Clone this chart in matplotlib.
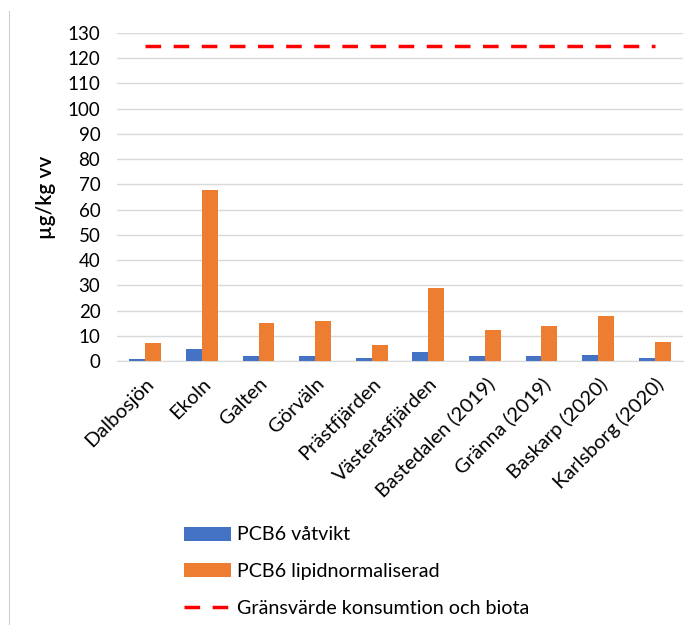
import matplotlib
matplotlib.use("Agg")
import matplotlib.pyplot as plt
import numpy as np

plt.rcParams['font.family'] = ['Lato', 'DejaVu Sans']

# data
sites = ["Dalbosjön", "Ekoln", "Galten", "Görväln", "Prästfjärden", "Västeråsfjärden",
         "Bastedalen (2019)", "Gränna (2019)", "Baskarp (2020)", "Karlsborg (2020)"]
pcb6_vatvikt = [0.9, 4.7, 1.9, 2.0, 1.1, 3.5, 2.1, 2.0, 2.5, 1.3]
pcb6_lipid = [7.2, 67.8, 14.9, 16.0, 6.5, 28.9, 12.3, 13.9, 18.0, 7.6]
gransvarde = [125] * len(sites)
yticks = list(range(0, 131, 10))

fig = plt.figure(figsize=(6.86, 6.25), dpi=100)
ax = fig.add_axes([0.1706, 0.4224, 0.825, 0.5248])

x = np.arange(len(sites))
w = 0.28
b1 = ax.bar(x - w / 2, pcb6_vatvikt, w, color='#4472C4', label='PCB6 våtvikt', zorder=3)
b2 = ax.bar(x + w / 2, pcb6_lipid, w, color='#ED7D31', label='PCB6 lipidnormaliserad', zorder=3)
ln, = ax.plot(x, gransvarde, color='#FF0000', lw=2.5, dashes=(4.5, 3.6),
              label='Gränsvärde konsumtion och biota', zorder=4)

ax.set_xlim(-0.5, len(sites) - 0.5)
ax.set_ylim(0, 130)
ax.set_yticks(yticks)
ax.tick_params(axis='y', length=0, labelsize=13.5, pad=12)
ax.tick_params(axis='x', length=0, labelsize=14.5, pad=10)
ax.set_xticks(x)
ax.set_xticklabels(sites, rotation=45, ha='right', rotation_mode='anchor')
ax.grid(axis='y', color='#d9d9d9', lw=1, zorder=0)
for s in ['top', 'right', 'left']:
    ax.spines[s].set_visible(False)
ax.spines['bottom'].set_color('#d9d9d9')
ax.set_ylabel('µg/kg vv', fontsize=15, fontweight='semibold', labelpad=8)

fig.legend(handles=[b1, b2, ln], loc='upper left', bbox_to_anchor=(0.243, 0.186),
           frameon=False, fontsize=14.2, handlelength=2.35, labelspacing=1.0,
           handletextpad=0.3)

# left border line of the original chart frame
fig.add_artist(plt.Line2D([9 / 686, 9 / 686], [0, 1 - 11 / 625],
                          transform=fig.transFigure, color='#d0d0d0', lw=0.8))

fig.savefig('out.png', dpi=100)
